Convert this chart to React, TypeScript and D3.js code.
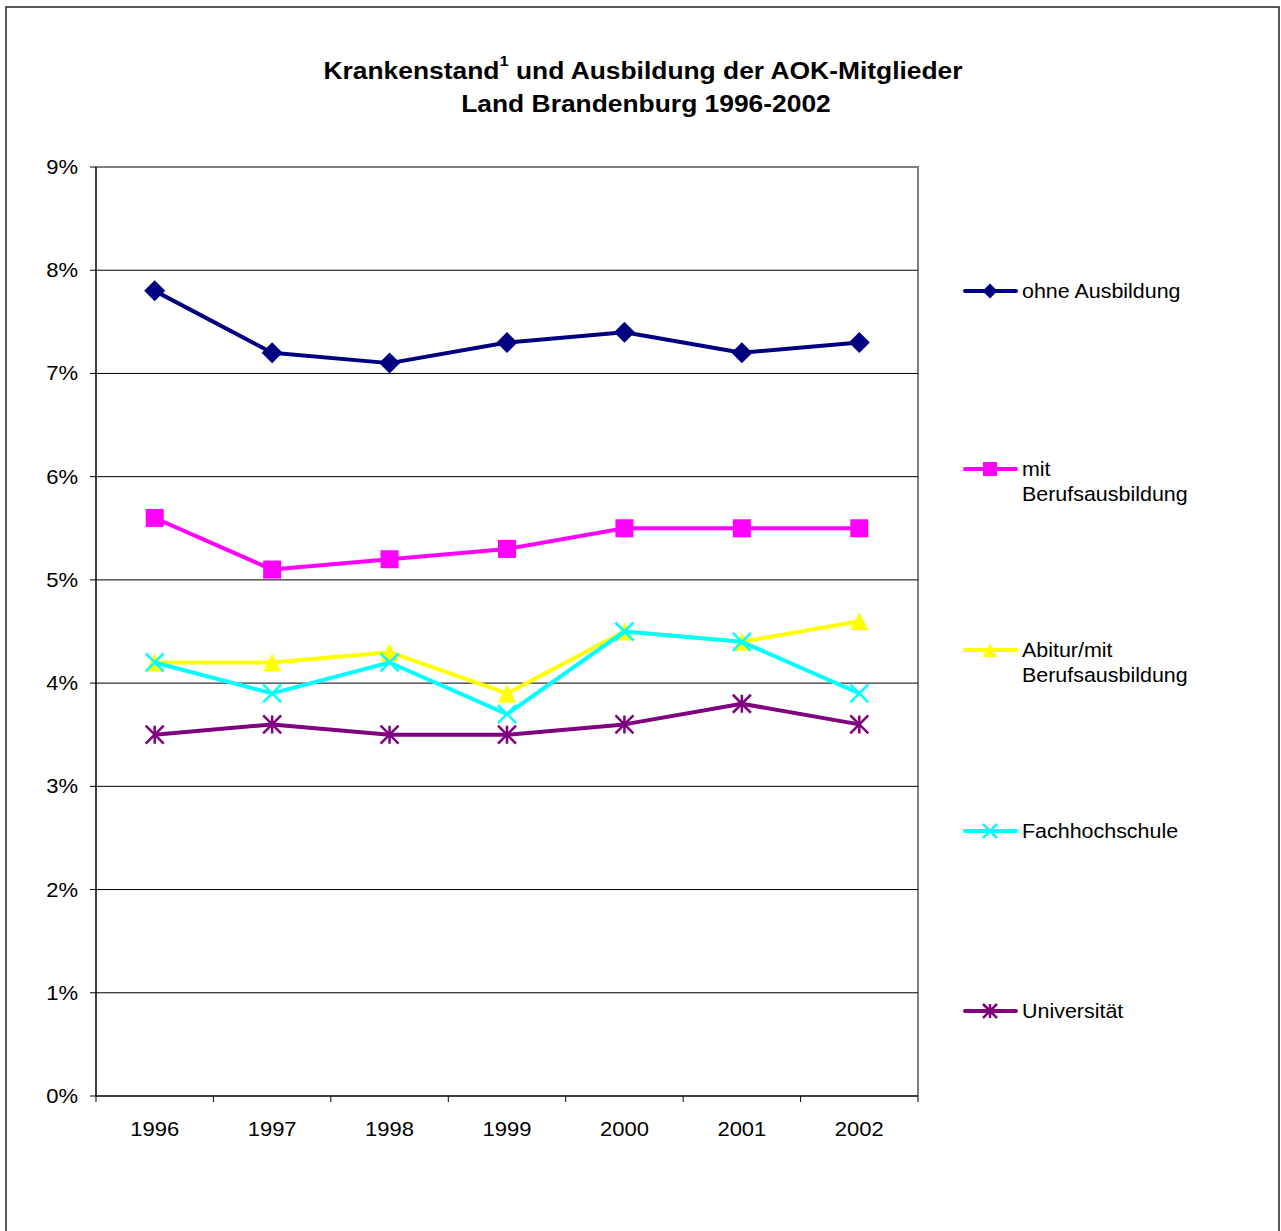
import React, { useRef, useEffect } from "react";
import * as d3 from "d3";

const years = ["1996", "1997", "1998", "1999", "2000", "2001", "2002"];
const ohneAusbildung = [7.8, 7.2, 7.1, 7.3, 7.4, 7.2, 7.3];
const mitBerufsausbildung = [5.6, 5.1, 5.2, 5.3, 5.5, 5.5, 5.5];
const abiturMitBerufsausbildung = [4.2, 4.2, 4.3, 3.9, 4.5, 4.4, 4.6];
const fachhochschule = [4.2, 3.9, 4.2, 3.7, 4.5, 4.4, 3.9];
const universitaet = [3.5, 3.6, 3.5, 3.5, 3.6, 3.8, 3.6];
const yTicks = [0, 1, 2, 3, 4, 5, 6, 7, 8, 9];

const series = [
  { name: ["ohne Ausbildung"], values: ohneAusbildung, color: "#000080", marker: "diamond", legendY: 291 },
  { name: ["mit", "Berufsausbildung"], values: mitBerufsausbildung, color: "#FF00FF", marker: "square", legendY: 469 },
  { name: ["Abitur/mit", "Berufsausbildung"], values: abiturMitBerufsausbildung, color: "#FFFF00", marker: "triangle", legendY: 650 },
  { name: ["Fachhochschule"], values: fachhochschule, color: "#00FFFF", marker: "x", legendY: 831 },
  { name: ["Universität"], values: universitaet, color: "#800080", marker: "star", legendY: 1011 },
];

const FONT = "'Liberation Sans', Arial, sans-serif";
const SX = 1.1; // text in the original is slightly stretched horizontally

type G = d3.Selection<SVGGElement, unknown, null, undefined>;

function txt(g: G | d3.Selection<SVGSVGElement | null, unknown, null, undefined>, x: number, y: number, anchor: string, size: number, bold = false) {
  return (g as any).append("text")
    .attr("transform", `translate(${x},${y}) scale(${SX},1)`)
    .attr("text-anchor", anchor).attr("font-family", FONT)
    .attr("font-size", size).attr("font-weight", bold ? "bold" : "normal").attr("fill", "#000");
}

function drawMarker(g: G, type: string, x: number, y: number, color: string, s: number) {
  if (type === "diamond") {
    g.append("path").attr("d", `M${x},${y - s}L${x + s},${y}L${x},${y + s}L${x - s},${y}Z`).attr("fill", color);
  } else if (type === "square") {
    g.append("rect").attr("x", x - s).attr("y", y - s).attr("width", 2 * s).attr("height", 2 * s).attr("fill", color);
  } else if (type === "triangle") {
    g.append("path").attr("d", `M${x},${y - s}L${x + s},${y + s}L${x - s},${y + s}Z`).attr("fill", color);
  } else if (type === "x") {
    g.append("path").attr("d", `M${x - s},${y - s}L${x + s},${y + s}M${x - s},${y + s}L${x + s},${y - s}`)
      .attr("stroke", color).attr("stroke-width", 2.5).attr("fill", "none");
  } else if (type === "star") {
    g.append("path").attr("d", `M${x - s},${y - s}L${x + s},${y + s}M${x - s},${y + s}L${x + s},${y - s}M${x},${y - s}L${x},${y + s}`)
      .attr("stroke", color).attr("stroke-width", 2.5).attr("fill", "none");
  }
}

const App = () => {
  const ref = useRef<SVGSVGElement>(null);

  useEffect(() => {
    const svg = d3.select(ref.current);
    svg.selectAll("*").remove();

    const left = 96, right = 918, top = 167, bottom = 1096;

    const x = d3.scaleBand().domain(years).range([left, right]);
    const y = d3.scaleLinear().domain([0, 9]).range([bottom, top]);

    // outer frame
    svg.append("path").attr("d", "M6,1240V7H1279V1240").attr("fill", "none").attr("stroke", "#222").attr("stroke-width", 1.5);

    // title
    const title = txt(svg, 643, 79, "middle", 24, true);
    title.append("tspan").text("Krankenstand");
    title.append("tspan").text("1").attr("font-size", 15).attr("dy", -13);
    title.append("tspan").text(" und Ausbildung der AOK-Mitglieder").attr("dy", 13);
    txt(svg, 646, 112, "middle", 24, true).text("Land Brandenburg 1996-2002");

    // plot border (top/right gray)
    svg.append("path").attr("d", `M${left},${top}H${right}V${bottom}`).attr("fill", "none").attr("stroke", "#808080").attr("stroke-width", 2);

    // gridlines
    svg.append("g").selectAll("line").data(yTicks.filter(t => t > 0 && t < 9)).join("line")
      .attr("x1", left).attr("x2", right).attr("y1", d => y(d)).attr("y2", d => y(d))
      .attr("stroke", "#000").attr("stroke-width", 1);

    // y axis
    const ya = svg.append("g") as unknown as G;
    ya.append("line").attr("x1", left).attr("x2", left).attr("y1", top).attr("y2", bottom).attr("stroke", "#000").attr("stroke-width", 1.5);
    yTicks.forEach(t => {
      ya.append("line").attr("x1", left - 6).attr("x2", left).attr("y1", y(t)).attr("y2", y(t)).attr("stroke", "#000");
      txt(ya, 78, y(t) + 7, "end", 20).text(`${t}%`);
    });

    // x axis: ticks at category boundaries
    const xa = svg.append("g") as unknown as G;
    xa.append("line").attr("x1", left).attr("x2", right).attr("y1", bottom).attr("y2", bottom).attr("stroke", "#000").attr("stroke-width", 1.5);
    const bounds = years.map(d => x(d) as number).concat([right]);
    bounds.forEach(b => {
      xa.append("line").attr("x1", b).attr("x2", b).attr("y1", bottom).attr("y2", bottom + 6).attr("stroke", "#000");
    });
    years.forEach(d => txt(xa, (x(d) as number) + x.bandwidth() / 2, bottom + 40, "middle", 20).text(d));

    const cx = (d: string) => (x(d) as number) + x.bandwidth() / 2;
    const line = d3.line<number>().x((_, i) => cx(years[i])).y(d => y(d));

    series.forEach(s => {
      const g = svg.append("g") as unknown as G;
      g.append("path").datum(s.values).attr("d", line as any).attr("fill", "none")
        .attr("stroke", s.color).attr("stroke-width", 4).attr("stroke-linejoin", "round");
      s.values.forEach((v, i) => drawMarker(g, s.marker, cx(years[i]), y(v), s.color, s.marker === "diamond" ? 10.5 : 9));
    });

    // legend
    series.forEach(s => {
      const g = svg.append("g") as unknown as G;
      g.append("line").attr("x1", 965).attr("x2", 1016).attr("y1", s.legendY).attr("y2", s.legendY)
        .attr("stroke", s.color).attr("stroke-width", 4).attr("stroke-linecap", "round");
      drawMarker(g, s.marker, 990, s.legendY, s.color, s.marker === "diamond" ? 7.5 : 7);
      const t = txt(g, 1022, s.legendY + 7, "start", 19.5);
      s.name.forEach((n, i) => t.append("tspan").attr("x", 0).attr("dy", i === 0 ? 0 : 25).text(n));
    });
  }, []);

  return <svg ref={ref} width={1281} height={1231} style={{ position: "absolute", left: 0, top: 0, background: "#fff" }} />;
};

export default App;
